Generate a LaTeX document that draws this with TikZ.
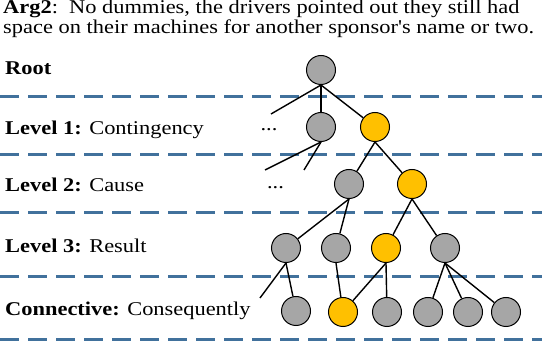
\documentclass[tikz,border=0pt]{standalone}
\usepackage{fontspec}
\setmainfont{Liberation Serif}
\definecolor{dashblue}{RGB}{65,113,156}
\definecolor{nodegray}{RGB}{166,166,166}
\definecolor{nodeyellow}{RGB}{255,192,0}
\tikzset{
  gn/.style={circle,draw=black,line width=1pt,fill=nodegray,minimum size=29pt,inner sep=0pt},
  yn/.style={gn,fill=nodeyellow},
  sep/.style={draw=dashblue,line width=3pt,dash pattern=on 19pt off 9pt},
  edge/.style={draw=black,line width=1.4pt},
  lab/.style={anchor=base west,inner sep=0pt,xscale=1.15,transform shape,font=\fontsize{19.5}{21}\selectfont},
}
\begin{document}
\begin{tikzpicture}[x=1pt,y=-1pt]
\useasboundingbox (0,0) rectangle (542,342);
% separators
\foreach \yy in {97,155,213,277,340} \draw[sep] (0,\yy) -- (542,\yy);
% text
\node[lab] (arg1) at (3,14) {\textbf{Arg2}:\ \ No dummies, the drivers pointed out they still had};
\node[lab] (arg2) at (3,34) {space on their machines for another sponsor\textquotesingle s name or two.};
\node[lab] (lroot) at (5,75) {\textbf{Root}};
\node[lab] (l1) at (5,135) {\textbf{Level 1:} Contingency};
\node[lab] (l2) at (5,192) {\textbf{Level 2:} Cause};
\node[lab] (l3) at (5,253) {\textbf{Level 3:} Result};
\node[lab] (lc) at (5,316) {\textbf{Connective:} Consequently};
% tree nodes
\node[gn] (r) at (321,70) {};
\node[gn] (a1) at (321,127) {};
\node[yn] (a2) at (375,127) {};
\node[gn] (b1) at (349,184) {};
\node[yn] (b2) at (412,184) {};
\node[gn] (c1) at (286,248) {};
\node[gn] (c2) at (336,248) {};
\node[yn] (c3) at (386,248) {};
\node[gn] (c4) at (445,248) {};
\node[gn] (d1) at (296,311) {};
\node[yn] (d2) at (343,312) {};
\node[gn] (d3) at (387,312) {};
\node[gn] (d4) at (428,312) {};
\node[gn] (d5) at (468,312) {};
\node[gn] (d6) at (506,312) {};
\node[lab,anchor=base] (dots1) at (269,131) {...};
\node[lab,anchor=base] (dots2) at (275.5,189) {...};
% free ends
\coordinate (fr) at (271,114);
\coordinate (fa1) at (265,170);
\coordinate (fa2) at (304,170);
\coordinate (fc) at (260,298);
% edges
\draw[edge] (r.south) -- (fr);
\draw[edge] (r.south) -- (a1);
\draw[edge] (r.south) -- (a2);
\draw[edge] (a1.south) -- (fa1);
\draw[edge] (a1.south) -- (fa2);
\draw[edge] (a2.south) -- (b1);
\draw[edge] (a2.south) -- (b2);
\draw[edge] (b1.south) -- (c1);
\draw[edge] (b1.south) -- (c2);
\draw[edge] (b2.south) -- (c3);
\draw[edge] (b2.south) -- (c4);
\draw[edge] (c1.south) -- (fc);
\draw[edge] (c1.south) -- (d1);
\draw[edge] (c2.south) -- (d2);
\draw[edge] (c3.south) -- (d2);
\draw[edge] (c3.south) -- (d3);
\draw[edge] (c4.south) -- (d4);
\draw[edge] (c4.south) -- (d5);
\draw[edge] (c4.south) -- (d6);
\end{tikzpicture}
\end{document}
